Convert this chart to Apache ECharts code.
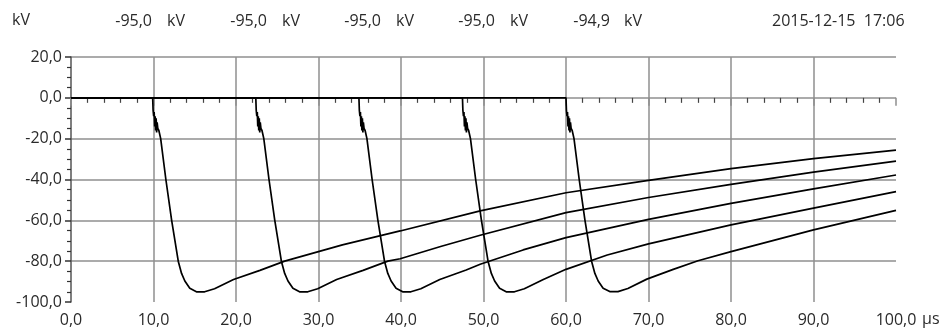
<!DOCTYPE html>
<html>
<head>
<meta charset="utf-8">
<script src="https://cdn.jsdelivr.net/npm/echarts@6/dist/echarts.min.js"></script>
<style>
  html, body { margin: 0; padding: 0; background: #fff; }
  #chart { width: 947px; height: 336px; }
</style>
</head>
<body>
<div id="chart"></div>
<script>
// Impulse voltage records: [time µs, voltage kV]
const pulse1 = [[0,0],[9.9,0],[9.95,-6],[10.02,-9],[10.08,-7],[10.14,-14],[10.2,-9],[10.26,-16],[10.32,-10],[10.38,-17],[10.44,-12],[10.52,-15],[10.65,-16],[10.87,-20],[11.5,-40],[12.2,-60],[13.0,-80],[13.4,-86],[13.8,-89.7],[14.4,-93.3],[15.2,-95],[16.2,-95],[17.4,-93.5],[19.7,-89],[22.9,-84.5],[25.9,-80],[32.9,-72],[39.9,-65.2],[49.6,-55.4],[60,-46.5],[70,-40.4],[80,-34.7],[90,-29.8],[100,-25.6]];
const pulse2 = [[0,0],[22.4,0],[22.45,-6],[22.52,-9],[22.58,-7],[22.64,-14],[22.7,-9],[22.76,-16],[22.82,-10],[22.88,-17],[22.94,-12],[23.02,-15],[23.15,-16],[23.37,-20],[24.0,-40],[24.7,-60],[25.5,-80],[25.9,-86],[26.3,-89.7],[26.9,-93.3],[27.7,-95],[28.7,-95],[29.9,-93.5],[32.2,-89],[35.4,-84.5],[38.4,-80],[39.9,-78.8],[44.8,-72.8],[49.6,-67.3],[60,-56.2],[70,-48.8],[80,-42.4],[90,-36.4],[100,-31]];
const pulse3 = [[0,0],[34.9,0],[34.95,-6],[35.02,-9],[35.08,-7],[35.14,-14],[35.2,-9],[35.26,-16],[35.32,-10],[35.38,-17],[35.44,-12],[35.52,-15],[35.65,-16],[35.87,-20],[36.5,-40],[37.2,-60],[38.0,-80],[38.4,-86],[38.8,-89.7],[39.4,-93.3],[40.2,-95],[41.2,-95],[42.4,-93.5],[44.7,-89],[47.9,-84.3],[49.6,-81.5],[54.8,-74.5],[60,-68.5],[70,-59.5],[80,-51.7],[90,-44.6],[100,-37.8]];
const pulse4 = [[0,0],[47.45,0],[47.5,-6],[47.57,-9],[47.63,-7],[47.69,-14],[47.75,-9],[47.81,-16],[47.87,-10],[47.93,-17],[47.99,-12],[48.07,-15],[48.2,-16],[48.42,-20],[49.05,-40],[49.75,-60],[50.55,-80],[50.95,-86],[51.35,-89.7],[51.95,-93.3],[52.75,-95],[53.75,-95],[54.95,-93.5],[57.25,-89],[60,-84],[65,-77],[70,-71.5],[80,-62.2],[90,-54],[100,-45.9]];
const pulse5 = [[0,0],[60,0],[60.05,-6],[60.12,-9],[60.18,-7],[60.24,-14],[60.3,-9],[60.36,-16],[60.42,-10],[60.48,-17],[60.54,-12],[60.62,-15],[60.75,-16],[60.97,-20],[61.6,-40],[62.3,-60],[63.1,-80],[63.5,-86],[63.9,-89.7],[64.5,-93.3],[65.3,-94.9],[66.3,-94.9],[67.5,-93.4],[69.8,-88.8],[73,-84],[76,-79.8],[80,-75.3],[90,-64.7],[100,-55.1]];

// Peak readings shown in the header
const peakValues = ['-95,0', '-95,0', '-95,0', '-95,0', '-94,9'];
const unitLabel = 'kV';
const timeUnit = 'µs';
const timestamp = '2015-12-15  17:06';

const FONT = 'Open Sans';
const TXT = '#2a2a2a';
const fmt = v => v.toFixed(1).replace('.', ',');

const chart = echarts.init(document.getElementById('chart'), null, { renderer: 'canvas' });

const peakRight = [152, 267, 381, 495, 610];
const unitLeft = [167, 282, 396, 510, 624];
const header = [];
header.push({ type: 'text', left: 12, top: 12, style: { text: unitLabel, font: `16px "${FONT}"`, fill: TXT } });
peakValues.forEach((p, i) => {
  header.push({ type: 'text', x: peakRight[i], y: 21, style: { text: p, font: `16px "${FONT}"`, fill: TXT, align: 'right', verticalAlign: 'middle' } });
  header.push({ type: 'text', x: unitLeft[i], y: 21, style: { text: unitLabel, font: `16px "${FONT}"`, fill: TXT, align: 'left', verticalAlign: 'middle' } });
});
header.push({ type: 'text', x: 772, y: 21, style: { text: timestamp, font: `16px "${FONT}"`, fill: TXT, align: 'left', verticalAlign: 'middle' } });
header.push({ type: 'text', x: 922, y: 319, style: { text: timeUnit, font: `16px "${FONT}"`, fill: TXT, align: 'left', verticalAlign: 'middle' } });

const pulses = [pulse1, pulse2, pulse3, pulse4, pulse5];

chart.setOption({
  animation: false,
  backgroundColor: '#fff',
  textStyle: { fontFamily: FONT },
  grid: { left: 71, right: 51, top: 57, bottom: 34 },
  graphic: header,
  xAxis: {
    type: 'value', min: 0, max: 100, interval: 10,
    axisLine: { show: false },
    axisTick: { show: true, length: 8, lineStyle: { color: '#8f8f8f', width: 1.5 } },
    minorTick: { show: true, splitNumber: 5, length: 5, lineStyle: { color: '#444', width: 1.2 } },
    splitLine: { show: true, showMinLine: false, showMaxLine: false, lineStyle: { color: '#8f8f8f', width: 1.5 } },
    axisLabel: { formatter: fmt, fontSize: 16, color: TXT, margin: 10 }
  },
  yAxis: {
    type: 'value', min: -100, max: 20, interval: 20,
    axisLine: { show: true, lineStyle: { color: '#555', width: 1.5 } },
    axisTick: { show: true, length: 6, lineStyle: { color: '#333', width: 1.5 } },
    minorTick: { show: true, splitNumber: 4, length: 4, lineStyle: { color: '#333', width: 1.2 } },
    splitLine: { show: true, showMinLine: false, lineStyle: { color: '#8f8f8f', width: 1.5 } },
    axisLabel: { formatter: fmt, fontSize: 16, color: TXT, margin: 9 }
  },
  series: pulses.map((d, i) => ({
    name: 'U' + (i + 1),
    type: 'line',
    data: d,
    showSymbol: false,
    smooth: false,
    lineStyle: { color: '#000', width: 1.7 },
    z: 3
  }))
});
</script>
</body>
</html>
